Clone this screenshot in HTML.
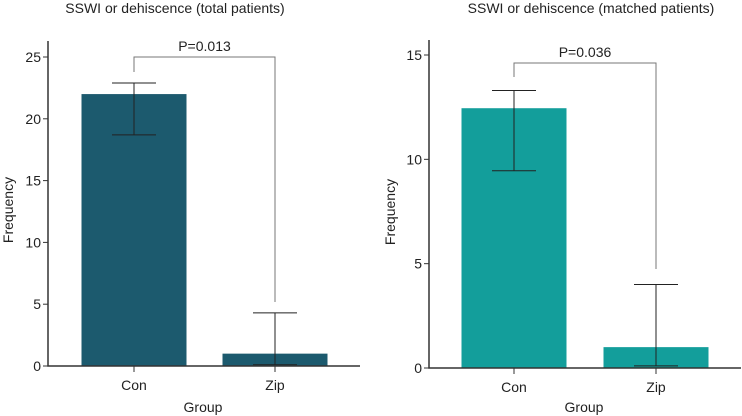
<!DOCTYPE html>
<html><head><meta charset="utf-8"><style>
body{margin:0;background:#fff;}
svg{display:block;font-family:"Liberation Sans",Arial,sans-serif;}
</style></head><body>
<svg id="chart" width="742" height="416"></svg>
<script>
const categories=["Con","Zip"];
const leftValues=[22,1];
const leftErrLow=[18.7,0.1];
const leftErrHigh=[22.9,4.3];
const leftTicks=[0,5,10,15,20,25];
const rightValues=[12.45,1];
const rightErrLow=[9.45,0.1];
const rightErrHigh=[13.3,4.0];
const rightTicks=[0,5,10,15];
const pLabels=["P=0.013","P=0.036"];

const NS="http://www.w3.org/2000/svg";
const svg=document.getElementById('chart');
function mk(tag,attrs,parent,text){const e=document.createElementNS(NS,tag);for(const k in attrs)e.setAttribute(k,attrs[k]);if(text!==undefined)e.textContent=text;(parent||svg).appendChild(e);return e;}

function panel(cfg){
  const g=mk('g',{});
  
  
  const y=v=>cfg.y0-(v)*(cfg.y0-cfg.yTop)/cfg.vTop;
  const xc=i=>cfg.xc[i];
  const t=mk('text',{x:cfg.titleX,y:13,'text-anchor':'middle','font-size':14,fill:'#222'},g,cfg.title);
  
  
  cfg.values.forEach((v,i)=>{
    const b=mk('rect',{x:xc(i)-cfg.bw/2,y:y(v),width:cfg.bw,height:y(0)-y(v),fill:cfg.color},g);
    
    
    const lo=y(cfg.lo[i]),hi=y(cfg.hi[i]);
    const eb=mk('path',{d:`M${xc(i)} ${lo}V${hi}M${xc(i)-22} ${hi}H${xc(i)+22}M${xc(i)-22} ${lo}H${xc(i)+22}`,stroke:'#222','stroke-width':1,fill:'none'},g);
    
    
  });
  const ax=mk('path',{d:`M${cfg.ax} ${cfg.axTop}V${y(0)}H${cfg.axRight}`,stroke:'#333','stroke-width':1.5,fill:'none'},g);
  
  
  cfg.ticks.forEach(tv=>{
    mk('line',{x1:cfg.ax-5,x2:cfg.ax,y1:y(tv),y2:y(tv),stroke:'#333','stroke-width':1},g);
    const tl=mk('text',{x:cfg.ax-7,y:y(tv)+5,'text-anchor':'end','font-size':14,fill:'#222'},g,tv);
    
    
  });
  categories.forEach((c,i)=>{
    mk('line',{x1:xc(i),x2:xc(i),y1:y(0),y2:y(0)+6,stroke:'#333','stroke-width':1},g);
    const cl=mk('text',{x:xc(i),y:y(0)+24,'text-anchor':'middle','font-size':14,fill:'#222'},g,c);
    
    
  });
  const xl=mk('text',{x:cfg.groupX,y:412,'text-anchor':'middle','font-size':14,fill:'#222'},g,'Group');
  
  
  const yl=mk('text',{x:0,y:0,'text-anchor':'middle','font-size':14,fill:'#222',transform:`translate(${cfg.freqX},${cfg.freqY}) rotate(-90)`},g,'Frequency');
  
  
  const br=mk('path',{d:`M${xc(0)} ${cfg.brL}V${cfg.brY}H${xc(1)}V${cfg.brR}`,stroke:'#777','stroke-width':1,fill:'none'},g);
  
  
  const pl=mk('text',{x:(xc(0)+xc(1))/2,y:cfg.brY-6,'text-anchor':'middle','font-size':14,fill:'#222'},g,cfg.p);
  
  
}
panel({name:'left-panel',title:'SSWI or dehiscence (total patients)',titleX:175,values:leftValues,lo:leftErrLow,hi:leftErrHigh,ticks:leftTicks,
  y0:366,yTop:57,vTop:25,xc:[134,275],bw:105,color:'#1c5a6e',ax:48,axTop:41,axRight:360,groupX:203,freqX:13,freqY:210,brY:57,brL:72,brR:302,p:pLabels[0]});
panel({name:'right-panel',title:'SSWI or dehiscence (matched patients)',titleX:591,values:rightValues,lo:rightErrLow,hi:rightErrHigh,ticks:rightTicks,
  y0:368,yTop:55,vTop:15,xc:[514,656],bw:105,color:'#139e9b',ax:429,axTop:40,axRight:741,groupX:584,freqX:395,freqY:212,brY:63,brL:77,brR:269,p:pLabels[1]});
</script>
</body></html>
